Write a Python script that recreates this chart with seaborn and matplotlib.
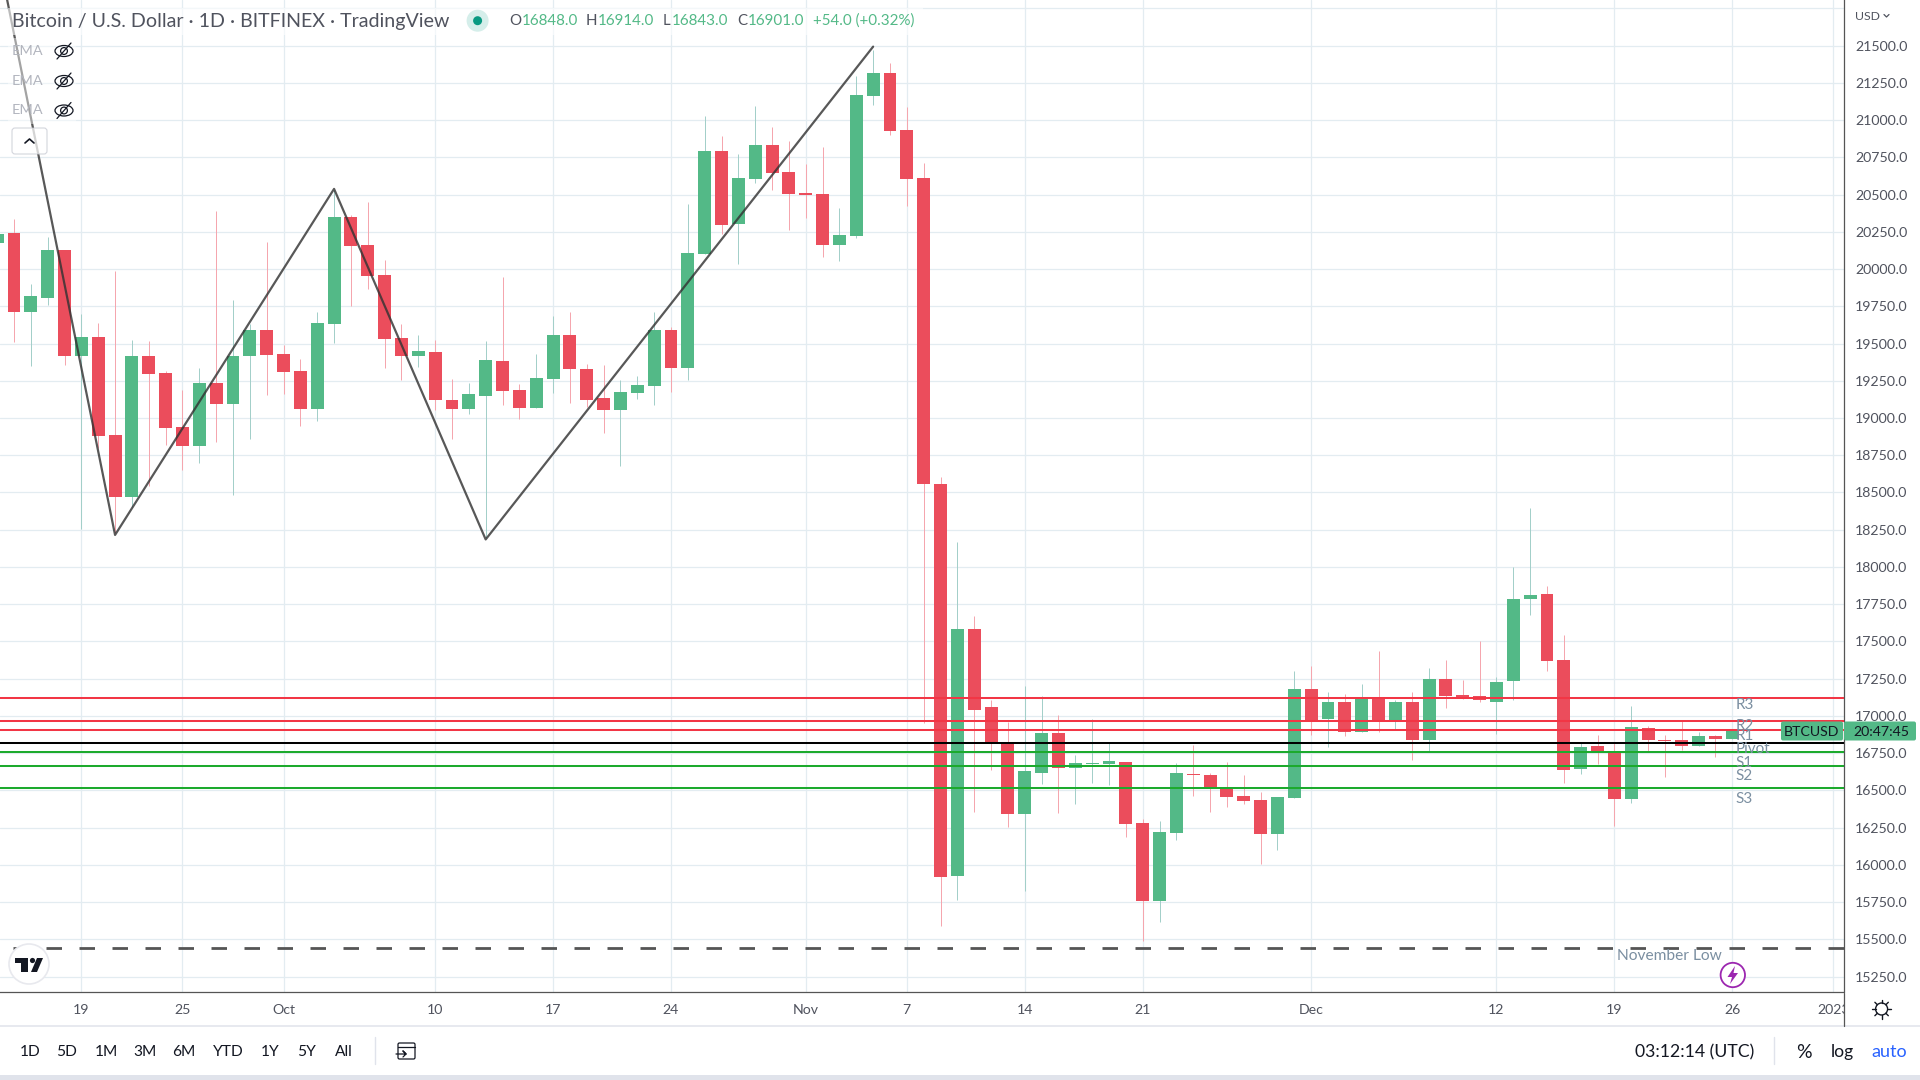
import matplotlib
matplotlib.use("Agg")
import matplotlib.pyplot as plt
from matplotlib.patches import Circle, Ellipse, FancyBboxPatch, Polygon, Rectangle
import numpy as np
import pandas as pd
import seaborn as sns

# daily candles, first one is 14 Sep 2022
opens = [20175, 20239, 19712, 19807, 20126, 19416, 19541, 18884, 18470, 19414, 19300, 18937, 18812, 19233, 19092,
         19416, 19589, 19427, 19314, 19060, 19631, 20348, 20161, 19957, 19536, 19416, 19441, 19124, 19060, 19148,
         19381, 19187, 19064, 19259, 19555, 19332, 19131, 19053, 19168, 19214, 19589, 19335, 20098, 20792, 20302,
         20602, 20831, 20651, 20510, 20503, 20161, 20221, 21160, 21315, 20933, 20609, 18556, 15926, 17586, 17060,
         16817, 16343, 16616, 16887, 16653, 16676, 16678, 16690, 16280, 15759, 16213, 16611, 16604, 16523, 16463,
         16435, 16208, 16451, 17181, 16982, 17095, 16889, 17123, 16972, 17095, 16840, 17248, 17141, 17134, 17097,
         17232, 17783, 17820, 17377, 16646, 16799, 16759, 16444, 16919, 16838, 16838, 16801, 16866, 16848]
highs = [20300, 20336, 19897, 20214, 20126, 19696, 19635, 19985, 19522, 19515, 19314, 19187, 19335, 20387, 19793,
         19631, 20179, 19488, 19395, 19710, 20533, 20360, 20452, 20059, 19629, 19555, 19527, 19259, 19233, 19515,
         19945, 19226, 19427, 19682, 19710, 19360, 19353, 19256, 19279, 19710, 19612, 20436, 21026, 20891, 20771,
         21093, 20952, 20861, 20704, 20817, 20408, 21296, 21470, 21382, 21086, 20711, 18602, 18166, 17671, 17107,
         16961, 17201, 17134, 17007, 16736, 16977, 16817, 16690, 16308, 16292, 16683, 16803, 16616, 16694, 16604,
         16488, 16456, 17303, 17336, 17164, 17146, 17215, 17438, 17107, 17164, 17322, 17373, 17243, 17505, 17262,
         18002, 18398, 17873, 17544, 16817, 16873, 16817, 17067, 16933, 16873, 16963, 16891, 16873, 16914]
lows = [20150, 19511, 19349, 19758, 19353, 18255, 18798, 18230, 18405, 18544, 18821, 18648, 18699, 18837, 18484,
        18856, 19152, 19161, 18944, 18981, 19501, 19751, 19867, 19335, 19254, 19342, 19053, 18856, 19025, 18197,
        19087, 18993, 19064, 19168, 19099, 19076, 18898, 18676, 19127, 19087, 19173, 19256, 20098, 20232, 20031,
        20579, 20533, 20260, 20341, 20082, 20054, 20209, 21100, 20898, 20422, 16956, 15590, 15764, 16354, 16639,
        16255, 15826, 16544, 16350, 16407, 16551, 16539, 16187, 15491, 15618, 16169, 16463, 16354, 16389, 16412,
        16007, 16099, 16451, 16875, 16794, 16868, 16889, 16891, 16914, 16706, 16764, 17056, 17113, 17095, 16882,
        17107, 17678, 17303, 16551, 16613, 16678, 16261, 16414, 16766, 16590, 16771, 16801, 16724, 16843]
closes = [20232, 19712, 19818, 20126, 19416, 19541, 18879, 18470, 19414, 19296, 18930, 18812, 19233, 19092, 19418,
          19589, 19420, 19307, 19060, 19635, 20348, 20156, 19955, 19529, 19416, 19448, 19122, 19060, 19159, 19388,
          19180, 19064, 19266, 19555, 19330, 19124, 19053, 19173, 19219, 19589, 19335, 20105, 20792, 20295, 20609,
          20831, 20646, 20503, 20496, 20161, 20228, 21167, 21315, 20926, 20605, 18558, 15919, 17586, 17042, 16817,
          16343, 16630, 16887, 16653, 16683, 16683, 16697, 16273, 15759, 16220, 16616, 16604, 16523, 16456, 16428,
          16208, 16456, 17181, 16968, 17095, 16889, 17118, 16968, 17095, 16840, 17248, 17137, 17123, 17107, 17229,
          17787, 17813, 17370, 16639, 16792, 16764, 16444, 16926, 16840, 16831, 16801, 16866, 16845, 16901]

# zigzag pivots: day index, price
zigzag_days = [0, 7, 20, 29, 52]
zigzag_prices = [22140, 18215, 20538, 18185, 21493]

level_names = ["R3", "R2", "R1", "Pivot", "S1", "S2", "S3"]
level_prices = [17120, 16968, 16905, 16819, 16757, 16664, 16516]
level_colors = ["#f23645", "#f23645", "#f23645", "#000000", "#1caa2d", "#1caa2d", "#1caa2d"]
november_low = 15444

date_ticks = [5, 11, 17, 26, 33, 40, 48, 54, 61, 68, 78, 89, 96, 103, 109]
date_labels = ["19", "25", "Oct", "10", "17", "24", "Nov", "7", "14", "21", "Dec", "12", "19", "26", "2023"]
price_ticks = list(range(15250, 21751, 250))
price_labels = [f"{p:.1f}" for p in price_ticks[:-1]] + [""]

UP = "#53b987"
DOWN = "#eb4d5c"
TEXT = "#50535e"
LABEL = "#7b8fa1"
FONT = ["Lato", "DejaVu Sans"]

sns.set_theme(style="white")
plt.rcParams["font.family"] = FONT

candles = pd.DataFrame({"day": np.arange(len(opens)), "open": opens, "high": highs, "low": lows, "close": closes})
candles["up"] = candles["close"] >= candles["open"]
candles["body"] = (candles["close"] - candles["open"]).abs()
candles["bottom"] = candles[["open", "close"]].min(axis=1)

fig = plt.figure(figsize=(19.2, 10.8), dpi=100, facecolor="white")
ax = fig.add_axes([0, 88 / 1080, 1843.5 / 1920, 992 / 1080])

# wicks under the bodies
for is_up, wick in [(True, "#a3cfc9"), (False, "#f5a6ae")]:
    sub = candles[candles["up"] == is_up]
    ax.vlines(sub["day"], sub["low"], sub["high"], color=wick, linewidth=0.72, zorder=2)

for is_up, col in [(True, UP), (False, DOWN)]:
    sub = candles[candles["up"] == is_up]
    sns.barplot(x=sub["day"].values, y=sub["body"].values, bottom=sub["bottom"].values, native_scale=True,
                width=0.765, color=col, saturation=1, errorbar=None, linewidth=0, zorder=3, ax=ax)

# labels do not sit at one distance from their lines in the original
label_drop = [-4.7, -3.8, -3.9, -4.7, -7.7, -7.2, -8.0]
for name, price, col, drop in zip(level_names, level_prices, level_colors, label_drop):
    ax.axhline(price, color=col, linewidth=1.45, zorder=4)
    ax.annotate(name, xy=(103.17, price), xytext=(0, drop), textcoords="offset points", va="center", ha="left",
                fontsize=11, color=LABEL, zorder=6)

ax.axhline(november_low, color="#555555", linewidth=2.0, linestyle=(7.2, (5.58, 6.3)), zorder=4)
ax.annotate("November Low", xy=(96.16, november_low), xytext=(0, -5.6), textcoords="offset points",
            va="center", ha="left", fontsize=11.2, color=LABEL, zorder=6)

sns.lineplot(x=zigzag_days, y=zigzag_prices, color="#333333", alpha=0.82, linewidth=1.6, sort=False, errorbar=None,
             zorder=5, ax=ax)

ax.set_xlim(0.17, 109.6)
ax.set_ylim(15147, 21806)
ax.yaxis.tick_right()
ax.set_xticks(date_ticks, date_labels)
ax.set_yticks(price_ticks, price_labels)
ax.set_axisbelow(True)
ax.grid(True, color="#e3ecf1", linewidth=0.9)
ax.tick_params(axis="both", length=0, labelsize=10.2, labelcolor=TEXT)
ax.tick_params(axis="x", pad=8.8)
ax.tick_params(axis="y", pad=8.4)
for name in ["top", "left"]:
    ax.spines[name].set_visible(False)
for name in ["right", "bottom"]:
    ax.spines[name].set_visible(True)
    ax.spines[name].set_color("#555555")
    ax.spines[name].set_linewidth(0.9)
ax.set_xlabel("")
ax.set_ylabel("")

# TradingView chrome, in screen pixels
ui = fig.add_axes([0, 0, 1, 1], zorder=5)
ui.set_xlim(0, 1920)
ui.set_ylim(1080, 0)
ui.axis("off")
ui.patch.set_alpha(0)


def label(x, y, s, size=10.2, color=TEXT, ha="left", **kw):
    ui.text(x, y, s, fontsize=size, color=color, ha=ha, va="center", **kw)


# header strip and legend veil
ui.add_patch(Rectangle((8, 8), 915, 27, facecolor="white", alpha=0.6, linewidth=0))
ui.add_patch(Rectangle((8, 38), 68, 86, facecolor="white", alpha=0.45, linewidth=0))
label(12, 21, "Bitcoin / U.S. Dollar · 1D · BITFINEX · TradingView", size=14.1, color="#50535e")
ui.add_patch(Ellipse((477.6, 20.7), 22, 22, facecolor="#d5eeea", linewidth=0))
ui.add_patch(Ellipse((477.6, 20.7), 9, 9, facecolor="#089981", linewidth=0))
for x, s in [(509, "O"), (586, "H"), (663, "L"), (737, "C")]:
    label(x, 21, s, size=10.8)
for x, s in [(522, "16848.0"), (598, "16914.0"), (672, "16843.0"), (748, "16901.0"), (812.6, "+54.0 (+0.32%)")]:
    label(x, 21, s, size=10.9, color=UP)

for y in [51, 81, 110.5]:
    label(12, y, "EMA", size=10.4, color="#b2b5be")
    ui.add_patch(Ellipse((64, y), 18, 11, facecolor="none", edgecolor="#131722", linewidth=0.9))
    ui.add_patch(Circle((64, y), 3.4, facecolor="none", edgecolor="#131722", linewidth=0.9))
    ui.plot([57, 71], [y + 8, y - 8], color="#131722", linewidth=0.9)
ui.add_patch(FancyBboxPatch((14, 130), 31, 22, boxstyle="round,pad=2,rounding_size=3", facecolor="white",
                            alpha=0.75, edgecolor="#c5c8d1", linewidth=0.8))
ui.plot([25, 29.5, 34], [143, 139, 143], color="#131722", linewidth=1.2)

# last price tags
ui.add_patch(FancyBboxPatch((1783, 723.5), 58, 15, boxstyle="round,pad=2,rounding_size=2", facecolor=UP, linewidth=0))
ui.add_patch(FancyBboxPatch((1846, 723.5), 68, 15, boxstyle="round,pad=2,rounding_size=2", facecolor=UP, linewidth=0))
label(1811, 731.5, "BTCUSD", ha="center", color="#131722", size=10.2)
label(1881.5, 731.5, "20:47:45", ha="center", color="#131722", size=10.2)
label(1855, 16, "USD", size=8.8)
ui.plot([1884, 1886.5, 1889], [14.5, 17, 14.5], color=TEXT, linewidth=0.9)

# logo
ui.add_patch(Circle((29, 964), 20, facecolor="white", edgecolor="#e8e9ee", linewidth=1.2, zorder=6))
ui.add_patch(Polygon([(15, 958), (28, 958), (28, 972), (21, 972), (21, 963), (15, 963)], facecolor="#131722", linewidth=0, zorder=7))
ui.add_patch(Circle((32.5, 960.5), 2.6, facecolor="#131722", linewidth=0, zorder=7))
ui.add_patch(Polygon([(37, 958), (43, 958), (37, 972), (31, 972)], facecolor="#131722", linewidth=0, zorder=7))

# news flash
ui.add_patch(Circle((1732.8, 975), 12.2, facecolor="white", edgecolor="#9c27b0", linewidth=1.3))
ui.add_patch(Polygon([(1735, 966), (1727.5, 977), (1732, 977), (1730, 984), (1738, 973), (1733.5, 973)],
                     facecolor="#9c27b0", linewidth=0))

# cover the cut off year label, settings icon
ui.add_patch(Rectangle((1844.5, 993), 76, 33, facecolor="white", linewidth=0))
ui.add_patch(Circle((1881.6, 1009), 6, facecolor="none", edgecolor="#131722", linewidth=1))
for a in np.deg2rad(np.arange(0, 360, 45)):
    ui.plot([1881.6 + 6 * np.cos(a), 1881.6 + 9.5 * np.cos(a)], [1009 + 6 * np.sin(a), 1009 + 9.5 * np.sin(a)],
            color="#131722", linewidth=1)

# bottom toolbar
ui.plot([0, 1920], [1026, 1026], color="#e0e3eb", linewidth=1.1)
ui.plot([1843.5, 1843.5], [993, 1026], color="#555555", linewidth=0.9)
ui.add_patch(Rectangle((0, 1075), 1920, 5, facecolor="#e0e3eb", linewidth=0))
for x, s in [(30, "1D"), (67, "5D"), (106, "1M"), (145, "3M"), (184, "6M"), (228, "YTD"), (270, "1Y"), (307, "5Y"), (344, "All")]:
    label(x, 1052, s, size=11.2, color="#131722", ha="center")
ui.plot([375, 375], [1037, 1064], color="#e0e3eb", linewidth=1)
ui.add_patch(FancyBboxPatch((398, 1043), 17, 16, boxstyle="round,pad=0,rounding_size=1.5", facecolor="none",
                            edgecolor="#131722", linewidth=0.9))
ui.plot([398, 415], [1047, 1047], color="#131722", linewidth=0.9)
ui.plot([396, 406, 403, 406, 403], [1054, 1054, 1051, 1054, 1057], color="#131722", linewidth=0.9)
label(1695, 1052, "03:12:14 (UTC)", size=12.7, color="#131722", ha="center")
ui.plot([1774, 1774], [1037, 1064], color="#e0e3eb", linewidth=1)
label(1804, 1052, "%", size=14, color="#131722", ha="center")
label(1842, 1052, "log", size=12.6, color="#131722", ha="center")
label(1889, 1052, "auto", size=13, color="#2962ff", ha="center")

fig.savefig("out.png", dpi=100)
